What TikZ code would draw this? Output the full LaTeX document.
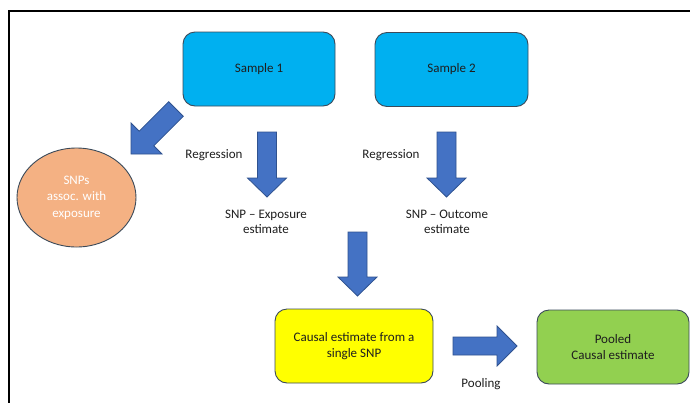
\documentclass[tikz,border=0pt]{standalone}
\usepackage{fontspec}
\setmainfont{Carlito}
\usetikzlibrary{shapes.geometric}
\definecolor{boxline}{HTML}{3B4A5A}
\definecolor{samplefill}{HTML}{00B0F0}
\definecolor{arrowfill}{HTML}{4472C4}
\definecolor{arrowline}{HTML}{2F528F}
\definecolor{snpfill}{HTML}{F4B183}
\definecolor{yellowfill}{HTML}{FFFF00}
\definecolor{greenfill}{HTML}{92D050}
\definecolor{txt}{HTML}{1E1E1E}
\tikzset{
  basefont/.style={font=\fontsize{13}{15.5}\selectfont, text=txt},
  roundbox/.style={basefont, draw=boxline, line width=0.9pt, rounded corners=12pt,
    minimum width=#1, minimum height=74pt, inner sep=0pt, align=center},
  blockarrow/.style={fill=arrowfill, draw=arrowline, line width=0.8pt, line join=miter},
  label/.style={basefont, align=center, inner sep=0pt},
}
\begin{document}
\begin{tikzpicture}[x=1pt,y=-1pt]
\useasboundingbox (0,0) rectangle (690,402);
\fill[white] (0,0) rectangle (690,402);
% frame
\draw[line width=2pt, black] (9,403) -- (9,11) -- (691,11);

% boxes
\node[roundbox=152pt, fill=samplefill] (s1) at (259,69) {Sample 1};
\node[roundbox=153pt, fill=samplefill] (s2) at (451.5,69.5) {Sample 2};
\node[roundbox=158pt, fill=yellowfill] (ce) at (354,346) {Causal estimate from a\\single SNP};
\node[roundbox=152pt, fill=greenfill] (pc) at (613,347) {Pooled\\Causal estimate};
\node[ellipse, draw=boxline, line width=0.9pt, fill=snpfill, minimum width=119pt,
      minimum height=99pt, inner sep=0pt, align=center,
      font=\fontsize{13}{16.5}\selectfont, text=white] (snp) at (76.5,197.5) {SNPs\\assoc. with\\exposure};

% labels
\node[label] (r1) at (214,155) {Regression};
\node[label] (r2) at (391,155) {Regression};
\node[label] (e1) at (266,222) {SNP \textendash{} Exposure\\estimate};
\node[label] (e2) at (447,222) {SNP \textendash{} Outcome\\estimate};
\node[label] (pl) at (481,384) {Pooling};

% block arrows
% diagonal (Sample 1 -> SNPs)
\draw[blockarrow] (168.7,101.7) -- (139.2,131.2) -- (131,123) -- (131,154) -- (162,154)
  -- (153.8,145.8) -- (183.3,116.3) -- cycle;
% down arrow 1
\draw[blockarrow] (257.5,132) -- (276.5,132) -- (276.5,178) -- (286.5,178) -- (267,197)
  -- (247.5,178) -- (257.5,178) -- cycle;
% down arrow 2
\draw[blockarrow] (437,132) -- (456,132) -- (456,178) -- (466,178) -- (446.5,197)
  -- (427,178) -- (437,178) -- cycle;
% down arrow 3
\draw[blockarrow] (348,232) -- (367,232) -- (367,277) -- (377,277) -- (357.5,296)
  -- (338,277) -- (348,277) -- cycle;
% right arrow (pooling)
\draw[blockarrow] (453,337) -- (497,337) -- (497,326) -- (517,346) -- (497,366)
  -- (497,355) -- (453,355) -- cycle;
\end{tikzpicture}
\end{document}
